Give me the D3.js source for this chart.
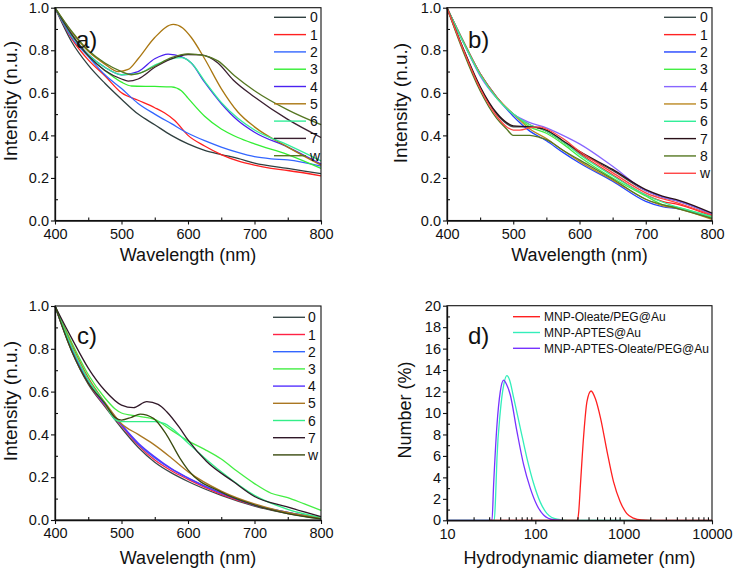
<!DOCTYPE html>
<html><head><meta charset="utf-8">
<script src="https://cdn.jsdelivr.net/npm/d3@7"></script>
<style>body{margin:0;background:#fff}svg{display:block}text{font-family:"Liberation Sans",Arial,sans-serif;fill:#111}</style>
</head><body><svg id="c" width="734" height="571"></svg>
<script>
// ---------- Panel a ----------
const aLabels = ["0","1","2","3","4","5","6","7","w"];
const a0 = [[400,1.0],[425,0.84],[450,0.73],[475,0.645],[500,0.57],[525,0.50],[550,0.45],[575,0.40],[600,0.36],[625,0.33],[650,0.31],[675,0.292],[700,0.27],[750,0.245],[800,0.22]];
const a1 = [[400,1.0],[425,0.855],[450,0.755],[475,0.68],[500,0.60],[525,0.565],[550,0.53],[565,0.505],[580,0.47],[600,0.40],[625,0.35],[650,0.31],[675,0.28],[700,0.26],[725,0.245],[750,0.235],[800,0.21]];
const a2 = [[400,1.0],[425,0.86],[450,0.77],[475,0.685],[500,0.62],[525,0.55],[550,0.50],[575,0.455],[600,0.41],[625,0.375],[650,0.345],[675,0.32],[700,0.30],[725,0.29],[750,0.285],[800,0.255]];
const a3 = [[400,1.0],[425,0.87],[450,0.775],[475,0.705],[500,0.65],[515,0.632],[550,0.63],[575,0.628],[590,0.61],[600,0.575],[625,0.49],[650,0.43],[675,0.39],[700,0.36],[750,0.31],[800,0.245]];
const a4 = [[400,1.0],[425,0.875],[450,0.78],[475,0.72],[500,0.685],[525,0.70],[550,0.76],[570,0.782],[590,0.77],[605,0.74],[625,0.65],[650,0.55],[675,0.47],[700,0.415],[750,0.345],[800,0.265]];
const a5 = [[400,1.0],[425,0.885],[450,0.795],[475,0.735],[495,0.70],[510,0.71],[525,0.76],[550,0.86],[578,0.922],[592,0.905],[605,0.86],[625,0.76],[650,0.62],[675,0.51],[700,0.44],[750,0.345],[800,0.26]];
const a6 = [[400,1.0],[425,0.875],[450,0.78],[475,0.72],[500,0.685],[525,0.69],[550,0.73],[575,0.76],[590,0.765],[605,0.74],[625,0.655],[650,0.555],[675,0.48],[700,0.425],[750,0.355],[800,0.28]];
const a7 = [[400,1.0],[425,0.875],[450,0.775],[475,0.705],[500,0.665],[510,0.655],[525,0.665],[550,0.72],[575,0.76],[600,0.78],[620,0.778],[645,0.74],[668,0.66],[700,0.58],[750,0.475],[800,0.39]];
const aw = [[400,1.0],[425,0.89],[450,0.80],[475,0.74],[500,0.70],[515,0.685],[525,0.69],[550,0.725],[575,0.765],[600,0.783],[625,0.775],[645,0.75],[670,0.68],[700,0.61],[750,0.52],[800,0.45]];
const aSeries = [a0,a1,a2,a3,a4,a5,a6,a7,aw];
const aColors = ["#2f3f3f","#ff2020","#3366ff","#33ee33","#4a22f0","#aa7711","#33ee99","#3a2030","#557722"];

// ---------- Panel b ----------
const bLabels = ["0","1","2","3","4","5","6","7","8","w"];
const b0 = [[400,1],[425,0.80],[450,0.625],[475,0.50],[490,0.455],[500,0.44],[525,0.44],[540,0.435],[550,0.42],[575,0.37],[600,0.32],[650,0.235],[700,0.14],[725,0.11],[750,0.09],[800,0.03]];
const b1 = [[400,1],[425,0.84],[450,0.69],[475,0.58],[500,0.50],[525,0.45],[550,0.42],[575,0.37],[600,0.315],[650,0.215],[700,0.12],[725,0.09],[750,0.075],[800,0.02]];
const b2 = [[400,1],[425,0.84],[450,0.69],[475,0.58],[500,0.49],[525,0.42],[550,0.375],[575,0.32],[600,0.27],[650,0.185],[700,0.09],[725,0.065],[750,0.055],[800,0.01]];
const b3 = [[400,1],[425,0.835],[450,0.685],[475,0.575],[500,0.50],[525,0.44],[550,0.41],[575,0.36],[600,0.30],[650,0.20],[700,0.115],[725,0.075],[750,0.06],[800,0.015]];
const b4 = [[400,1],[425,0.835],[450,0.68],[475,0.575],[500,0.50],[525,0.46],[550,0.435],[575,0.40],[600,0.36],[650,0.255],[700,0.14],[725,0.11],[750,0.09],[800,0.03]];
const b5 = [[400,1],[425,0.84],[450,0.69],[475,0.58],[500,0.50],[525,0.43],[550,0.385],[575,0.33],[600,0.278],[650,0.19],[700,0.10],[725,0.07],[750,0.055],[800,0.005]];
const b6 = [[400,1],[425,0.835],[450,0.685],[475,0.575],[500,0.50],[525,0.45],[550,0.42],[575,0.37],[600,0.31],[650,0.21],[700,0.12],[750,0.06],[800,0.02]];
const b7 = [[400,1],[425,0.805],[450,0.63],[475,0.505],[490,0.46],[500,0.445],[525,0.44],[550,0.425],[575,0.375],[600,0.325],[650,0.24],[700,0.145],[725,0.115],[750,0.095],[800,0.035]];
const b8 = [[400,1],[425,0.79],[450,0.61],[475,0.48],[490,0.43],[500,0.40],[525,0.40],[540,0.39],[550,0.38],[575,0.33],[600,0.285],[650,0.195],[700,0.10],[750,0.055],[800,0.01]];
const bw = [[400,1],[425,0.80],[450,0.62],[475,0.49],[490,0.44],[500,0.425],[510,0.425],[525,0.435],[540,0.44],[550,0.43],[575,0.385],[600,0.325],[650,0.225],[700,0.13],[750,0.08],[800,0.025]];
const bSeries = [b0,b1,b2,b3,b4,b5,b6,b7,b8,bw];
const bColors = ["#3a4a4a","#ff2222","#2244ff","#44ee44","#8866ff","#bb8822","#33ee99","#2a1018","#557722","#ff4444"];

// ---------- Panel c ----------
const cLabels = ["0","1","2","3","4","5","6","7","w"];
const c0 = [[400,1],[425,0.79],[450,0.635],[475,0.53],[500,0.43],[525,0.34],[550,0.27],[575,0.22],[600,0.18],[650,0.115],[700,0.065],[750,0.03],[800,0.006]];
const c1 = [[400,1],[425,0.795],[450,0.64],[475,0.535],[500,0.44],[525,0.35],[550,0.28],[575,0.23],[600,0.19],[650,0.12],[700,0.068],[750,0.033],[800,0.008]];
const c2 = [[400,1],[425,0.80],[450,0.645],[475,0.54],[500,0.445],[525,0.355],[550,0.29],[575,0.238],[600,0.195],[650,0.125],[700,0.07],[750,0.035],[800,0.01]];
const c3 = [[400,1],[425,0.83],[450,0.68],[475,0.57],[490,0.52],[500,0.50],[525,0.485],[550,0.47],[575,0.42],[600,0.37],[625,0.33],[650,0.285],[675,0.225],[700,0.17],[725,0.125],[750,0.105],[775,0.075],[800,0.045]];
const c4 = [[400,1],[425,0.80],[450,0.645],[475,0.54],[500,0.445],[525,0.36],[550,0.295],[575,0.24],[600,0.197],[650,0.125],[700,0.07],[750,0.035],[800,0.01]];
const c5 = [[400,1],[425,0.82],[450,0.665],[475,0.55],[500,0.45],[525,0.40],[550,0.35],[575,0.29],[600,0.226],[650,0.135],[700,0.075],[750,0.035],[800,0.01]];
const c6 = [[400,1],[425,0.81],[450,0.655],[475,0.545],[490,0.47],[500,0.46],[525,0.46],[550,0.46],[565,0.45],[575,0.43],[600,0.36],[625,0.29],[650,0.225],[700,0.115],[750,0.05],[800,0.012]];
const c7 = [[400,1],[425,0.85],[450,0.71],[475,0.605],[500,0.537],[518,0.525],[538,0.553],[555,0.54],[568,0.506],[588,0.428],[600,0.374],[628,0.273],[668,0.18],[700,0.11],[748,0.062],[800,0.016]];
const cw = [[400,1],[425,0.79],[450,0.64],[475,0.545],[490,0.48],[500,0.467],[515,0.48],[528,0.495],[548,0.475],[568,0.397],[588,0.288],[600,0.234],[650,0.13],[700,0.07],[750,0.03],[800,0.005]];
const cSeries = [c0,c1,c2,c3,c4,c5,c6,c7,cw];
const cColors = ["#3a4a4a","#ff2244","#3366ff","#44ee44","#5533ff","#aa7722","#33ee88","#301828","#3a4a10"];

// ---------- Panel d ----------
const dLabels = ["MNP-Oleate/PEG@Au","MNP-APTES@Au","MNP-APTES-Oleate/PEG@Au"];
const dRed = [[30,0],[300,0],[310,0.8],[324,3.3],[353,7.95],[384,11.05],[427,12.05],[480,11.3],[548,9.5],[649,6.4],[767,3.6],[913,1.74],[1080,0.65],[1290,0.2],[1600,0.03],[2000,0],[10000,0]];
const dCyan = [[10,0],[34.3,0],[35.5,2.2],[36.8,5.8],[40.1,10.1],[43.8,12.6],[47.7,13.48],[51,13.1],[56.9,11.4],[67.6,8.6],[80.3,5.8],[95.5,3.45],[113,1.74],[135,0.65],[176,0.1],[230,0],[2300,0]];
const dPurple = [[10,0],[32.3,0],[33.7,3.3],[36.8,8.9],[40.1,12.0],[43.8,13.07],[47,12.7],[52,11.7],[62,8.26],[73.8,5.16],[87.6,3.0],[104,1.43],[124,0.5],[161,0.05],[200,0]];
const dSeries = [dRed,dCyan,dPurple];
const dColors = ["#ff2020","#33eebb","#7733ff"];
const dDrawOrder = [1,2,0];

// ---------- ticks ----------
const wlMajor = [400,500,600,700,800];
const wlMinor = [450,550,650,750];
const intMajor = [0,0.2,0.4,0.6,0.8,1.0];
const intMinor = [0.1,0.3,0.5,0.7,0.9];
const dXMajor = [10,100,1000,10000];
const dXMinor = [20,30,40,50,60,70,80,90,200,300,400,500,600,700,800,900,2000,3000,4000,5000,6000,7000,8000,9000];
const dYMajor = d3.range(0,21,2);
const dYMinor = d3.range(1,20,2);

const svg = d3.select("#c");

function panel(o){
  const g = svg.append("g");
  const x = o.x, y = o.y;
  const [x0,x1] = x.range(), [y0,y1] = y.range();
  const line = d3.line().x(d=>x(d[0])).y(d=>y(d[1])).curve(d3.curveMonotoneX);
  const order = o.order || o.series.map((_,i)=>i);
  order.forEach(i=>{
    g.append("path").attr("d",line(o.series[i])).attr("fill","none")
     .attr("stroke",o.colors[i]).attr("stroke-width",1.3).attr("stroke-linejoin","round");
  });
  // frame
  g.append("rect").attr("x",x0).attr("y",y1).attr("width",x1-x0).attr("height",y0-y1)
   .attr("fill","none").attr("stroke","#111").attr("stroke-width",1.1);
  // axes
  const xa = g.append("g").attr("transform",`translate(0,${y0})`)
    .call(d3.axisBottom(x).tickValues(o.xMajor).tickSize(4).tickSizeOuter(0).tickPadding(4).tickFormat(o.xFmt));
  const xm = g.append("g").attr("transform",`translate(0,${y0})`)
    .call(d3.axisBottom(x).tickValues(o.xMinor).tickSize(-3).tickFormat(""));
  const ya = g.append("g").attr("transform",`translate(${x0},0)`)
    .call(d3.axisLeft(y).tickValues(o.yMajor).tickSize(4).tickSizeOuter(0).tickPadding(2).tickFormat(o.yFmt));
  const ym = g.append("g").attr("transform",`translate(${x0},0)`)
    .call(d3.axisLeft(y).tickValues(o.yMinor).tickSize(-3).tickFormat(""));
  [xm,ym].forEach(a=>a.select(".domain").remove());
  [xa,xm,ya,ym].forEach(a=>{
    a.selectAll("line").attr("stroke","#111").attr("stroke-width",1.1);
    a.select(".domain").attr("stroke","#111").attr("stroke-width",1.3);
    a.selectAll("text").style("font-family",'"Liberation Sans",Arial,sans-serif').style("font-size","14.5px").attr("fill","#111");
  });
  // titles
  g.append("text").attr("x",(x0+x1)/2).attr("y",o.xTitleY).attr("text-anchor","middle")
   .style("font-size","18px").text(o.xTitle);
  g.append("text").attr("transform",`translate(${o.yTitleX},${o.yTitleCY}) rotate(-90)`)
   .attr("text-anchor","middle").style("font-size",o.yTitleSize+"px").text(o.yTitle);
  // panel label
  g.append("text").attr("x",o.label[1]).attr("y",o.label[2]).style("font-size","24px").text(o.label[0]);
  // legend
  const L = o.legend;
  o.labels.forEach((t,i)=>{
    const yy = L.y + i*L.dy;
    g.append("line").attr("x1",L.x1).attr("x2",L.x2).attr("y1",yy).attr("y2",yy)
     .attr("stroke",o.colors[i]).attr("stroke-width",1.4);
    g.append("text").attr("x",L.tx).attr("y",yy).attr("dy","0.36em").style("font-size",L.fs+"px").text(t);
  });
}

const f1 = d3.format(".1f"), fd = d3.format("d");

panel({x:d3.scaleLinear([400,800],[55,321]), y:d3.scaleLinear([0,1],[220.5,7.7]),
  series:aSeries, colors:aColors, labels:aLabels,
  xMajor:wlMajor, xMinor:wlMinor, yMajor:intMajor, yMinor:intMinor, xFmt:fd, yFmt:f1,
  xTitle:"Wavelength (nm)", xTitleY:261, yTitle:"Intensity (n.u.)", yTitleX:16.5, yTitleCY:101, yTitleSize:19,
  label:["a)",76,48], legend:{x1:274,x2:306,tx:310,y:17.3,dy:17.3,fs:14}});

panel({x:d3.scaleLinear([400,800],[447,712]), y:d3.scaleLinear([0,1],[220.5,7.7]),
  series:bSeries, colors:bColors, labels:bLabels,
  xMajor:wlMajor, xMinor:wlMinor, yMajor:intMajor, yMinor:intMinor, xFmt:fd, yFmt:f1,
  xTitle:"Wavelength (nm)", xTitleY:261, yTitle:"Intensity (n.u.)", yTitleX:407, yTitleCY:103, yTitleSize:19,
  label:["b)",468,47.5], legend:{x1:664,x2:696,tx:700,y:17.3,dy:17.33,fs:14}});

panel({x:d3.scaleLinear([400,800],[55,321]), y:d3.scaleLinear([0,1],[520,306]),
  series:cSeries, colors:cColors, labels:cLabels,
  xMajor:wlMajor, xMinor:wlMinor, yMajor:intMajor, yMinor:intMinor, xFmt:fd, yFmt:f1,
  xTitle:"Wavelength (nm)", xTitleY:564, yTitle:"Intensity (n.u.)", yTitleX:16.5, yTitleCY:401, yTitleSize:19,
  label:["c)",77,344], legend:{x1:273,x2:305,tx:308,y:317.3,dy:17.2,fs:14}});

panel({x:d3.scaleLog([10,10000],[447,712]), y:d3.scaleLinear([0,20],[520.3,305.7]),
  series:dSeries, colors:dColors, labels:dLabels, order:dDrawOrder,
  xMajor:dXMajor, xMinor:dXMinor, yMajor:dYMajor, yMinor:dYMinor, xFmt:fd, yFmt:fd,
  xTitle:"Hydrodynamic diameter (nm)", xTitleY:564, yTitle:"Number (%)", yTitleX:411, yTitleCY:410, yTitleSize:18,
  label:["d)",468,344], legend:{x1:513,x2:540,tx:544,y:316.7,dy:15.8,fs:12}});
</script></body></html>
